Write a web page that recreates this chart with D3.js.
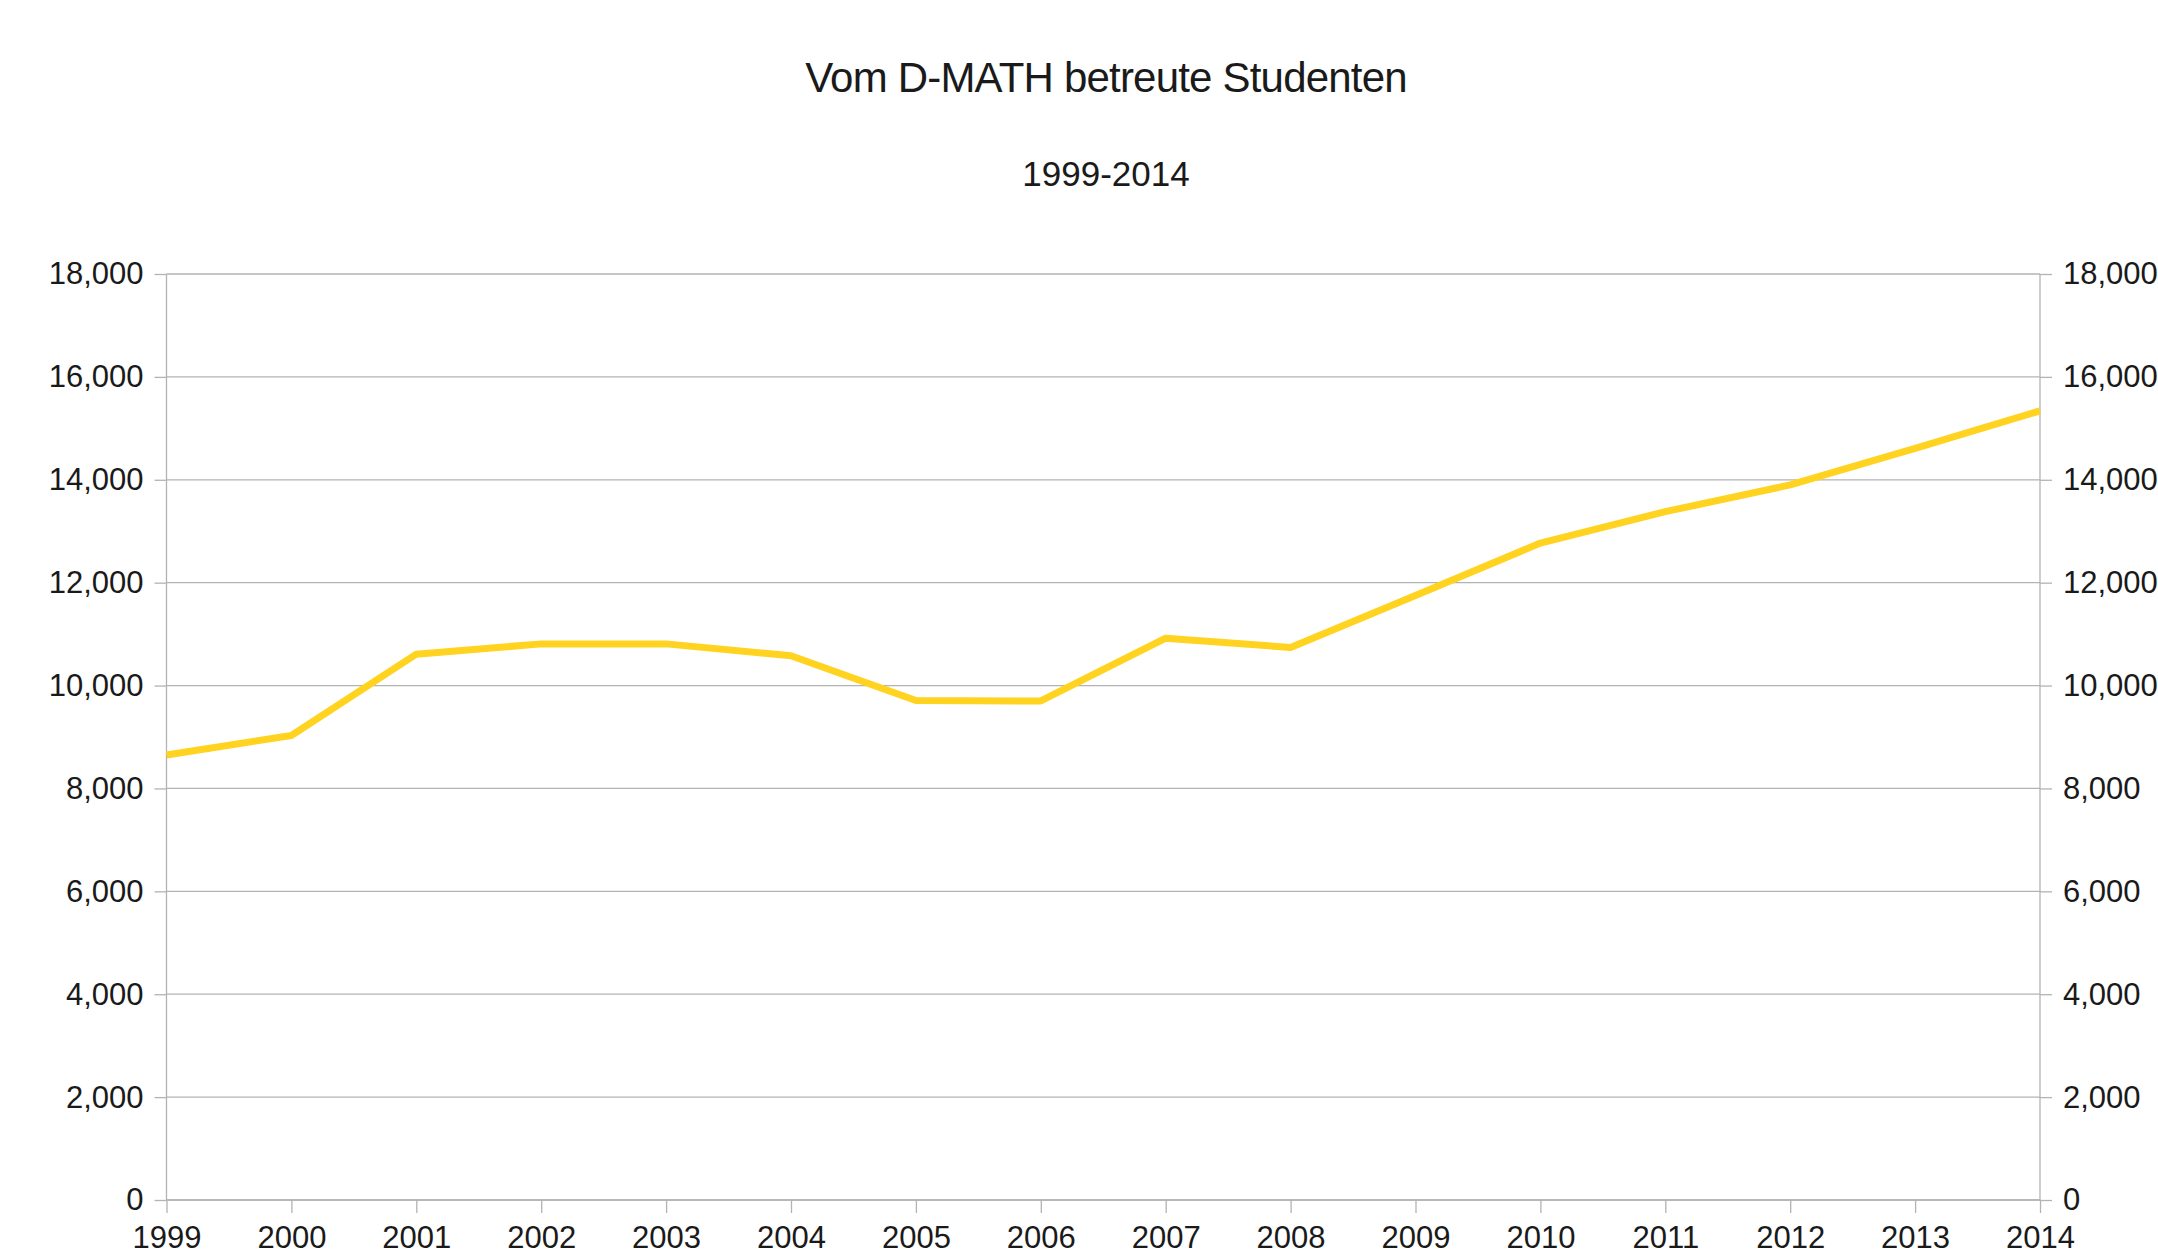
<!DOCTYPE html>
<html>
<head>
<meta charset="utf-8">
<script src="https://cdn.jsdelivr.net/npm/d3@7"></script>
<style>
  html, body { margin: 0; padding: 0; background: #ffffff; }
  svg { display: block; font-family: "Liberation Sans", Arial, sans-serif; }
</style>
</head>
<body>
<svg id="chart" width="2158" height="1254"></svg>
<script>
const title = "Vom D-MATH betreute Studenten";
const subtitle = "1999-2014";
const years = ["1999","2000","2001","2002","2003","2004","2005","2006","2007","2008","2009","2010","2011","2012","2013","2014"];
const students = [8650, 9030, 10610, 10810, 10810, 10580, 9710, 9700, 10920, 10740, 11750, 12770, 13380, 13900, 14610, 15340];
const yTicks = [0, 2000, 4000, 6000, 8000, 10000, 12000, 14000, 16000, 18000];

(function () {
const svg = d3.select("#chart");
const pLeft = 166.5, pRight = 2040, pTop = 274, pBottom = 1200;

const x = d3.scalePoint().domain(years).range([pLeft, pRight]);
const y = d3.scaleLinear().domain([0, 18000]).range([pBottom, pTop]);
const fmt = d3.format(",");
const gridColor = "#b3b3b3";

// gridlines
svg.append("g").selectAll("line").data(yTicks).join("line")
  .attr("x1", pLeft).attr("x2", pRight)
  .attr("y1", d => y(d)).attr("y2", d => y(d))
  .attr("stroke", gridColor).attr("stroke-width", 1.3);

// left axis
const gl = svg.append("g").attr("transform", `translate(${pLeft},0)`)
  .call(d3.axisLeft(y).tickValues(yTicks).tickFormat(fmt).tickSize(12).tickPadding(11));
// right axis
const gr = svg.append("g").attr("transform", `translate(${pRight},0)`)
  .call(d3.axisRight(y).tickValues(yTicks).tickFormat(fmt).tickSize(12).tickPadding(11));
// bottom axis
const gb = svg.append("g").attr("transform", `translate(0,${pBottom})`)
  .call(d3.axisBottom(x).tickSize(13).tickPadding(12));

[gl, gr, gb].forEach(g => {
  g.select(".domain").attr("stroke", gridColor).attr("stroke-width", 1.3);
  g.selectAll(".tick line").attr("stroke", gridColor).attr("stroke-width", 1.3);
  g.selectAll(".tick text")
    .attr("fill", "#1a1a1a")
    .style("font-family", "'Liberation Sans', Arial, sans-serif")
    .style("font-size", "31px");
});
gb.selectAll(".tick text").attr("dy", "0.75em");
gb.select(".domain").attr("d", `M${pLeft},0H${pRight}`);
gl.select(".domain").attr("d", `M0,${pTop}V${pBottom}`);
gr.select(".domain").attr("d", `M0,${pTop}V${pBottom}`);

// line
const line = d3.line().x((d, i) => x(years[i])).y(d => y(d));
svg.append("path")
  .datum(students)
  .attr("d", line)
  .attr("fill", "none")
  .attr("stroke", "#ffd320")
  .attr("stroke-width", 7)
  .attr("stroke-linejoin", "round");

// titles
svg.append("text")
  .attr("x", 1106).attr("y", 92)
  .attr("text-anchor", "middle")
  .attr("fill", "#1a1a1a")
  .style("font-size", "42px")
  .style("letter-spacing", "-0.8px")
  .text(title);

svg.append("text")
  .attr("x", 1106).attr("y", 186)
  .attr("text-anchor", "middle")
  .attr("fill", "#1a1a1a")
  .style("font-size", "35px")
  .text(subtitle);
})();
</script>
</body>
</html>
